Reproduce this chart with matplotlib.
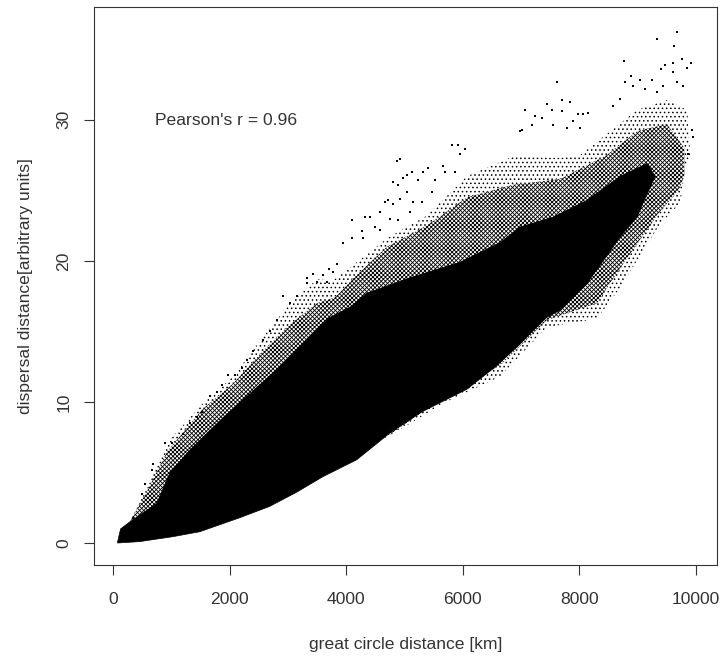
import numpy as np
import matplotlib
matplotlib.use('Agg')
import matplotlib.pyplot as plt

plt.rcParams['font.family'] = ['Liberation Sans', 'DejaVu Sans']
plt.rcParams['hatch.linewidth'] = 0.6

# solid part of the cloud
core_top_x = [80, 130, 290, 750, 978, 1320, 1890, 2350, 2810, 3200, 3600, 3720, 4060, 4350, 4750,
              5090, 5950, 6640, 6980, 7550, 8130, 8700, 9160, 9300]
core_top_y = [0.1, 1.0, 1.5, 2.8, 5.0, 6.6, 8.9, 10.6, 12.3, 13.9, 15.6, 16.0, 16.7, 17.7, 18.3,
              18.8, 19.9, 21.3, 22.4, 23.1, 24.3, 26.0, 26.9, 26.0]
core_bot_x = [80, 460, 1030, 1490, 2180, 2690, 3150, 3600, 4180, 4750, 5300, 6070, 6500, 6930,
              7440, 7670, 8130, 8700, 8990, 9090, 9300]
core_bot_y = [0.0, 0.1, 0.45, 0.8, 1.8, 2.6, 3.6, 4.7, 5.9, 7.8, 9.3, 10.9, 12.3, 13.9,
              16.0, 16.5, 18.4, 21.7, 23.1, 24.1, 26.0]

# dark speckled band next to the core
dense_top_x = [80, 290, 600, 930, 1540, 2060, 2570, 3040, 3500, 3800, 4180, 4700, 5380, 6070,
               6860, 7670, 8470, 8990, 9500, 9800, 9800]
dense_top_y = [0.1, 1.5, 3.8, 6.5, 9.5, 11.3, 13.6, 15.5, 17.0, 17.4, 19.0, 21.0, 22.5, 24.5,
               25.4, 25.8, 27.5, 29.2, 29.7, 28.0, 26.0]
dense_bot_x = [80, 4750, 5660, 6640, 7440, 8300, 8700, 9090, 9380, 9700, 9800]
dense_bot_y = [0.0, 7.7, 10.3, 12.6, 15.8, 17.0, 19.5, 21.8, 23.5, 25.0, 26.0]

# thin speckled fringe outside that
fringe_top_x = [80, 290, 600, 930, 1540, 2060, 2570, 3040, 3500, 3770, 4180, 4700, 5380, 6070,
                6860, 7670, 8010, 8470, 8990, 9500, 9850, 9900]
fringe_top_y = [0.1, 1.6, 4.0, 7.1, 9.9, 11.8, 14.6, 17.0, 18.7, 18.6, 19.9, 21.6, 23.2, 26.0,
                27.4, 27.3, 27.5, 29.0, 30.7, 31.4, 30.7, 27.5]
fringe_bot_x = [80, 4750, 5660, 6640, 7440, 8300, 8700, 9090, 9380, 9730, 9810, 9900]
fringe_bot_y = [0.0, 7.6, 9.9, 11.8, 15.3, 15.9, 18.1, 20.7, 22.6, 24.1, 26.4, 27.5]

# single points above the cloud
stray_x = [9670, 9326, 9624, 8766, 9755, 9910, 9600, 9470, 9395, 9612, 9840, 8880, 8783, 7610,
           9040, 9240, 9670, 9784, 8926, 9126, 9440, 9326, 8697, 8583, 7839, 7696, 7450, 7067,
           7524, 7696, 8154, 7982, 8068, 7353, 7238, 7896, 7553, 7181, 7782, 8011, 7021, 9927,
           9955, 9870, 6983, 5811, 5925, 6039, 5954, 4867, 4924, 5668, 5410, 5324, 5124, 5696,
           5868, 5038, 4981, 5239, 5525, 4810, 4895, 5038, 5467, 5153, 4924, 4724, 4667, 5296,
           4810, 5096, 4581, 4409, 4323, 4095, 4752, 4895, 4495, 4266, 4295, 4095, 3952, 4581,
           3837, 3711, 3780, 3608, 3437, 3322]
stray_y = [36.2, 35.7, 35.2, 34.2, 34.3, 34.0, 34.0, 33.9, 33.6, 33.4, 33.7, 33.1, 32.7, 32.7,
           32.8, 32.8, 32.7, 32.4, 32.4, 32.2, 32.4, 32.0, 31.5, 31.0, 31.3, 31.4, 31.1, 30.7,
           30.7, 30.6, 30.5, 30.4, 30.4, 30.1, 30.3, 29.9, 29.6, 29.6, 29.4, 29.4, 29.3, 29.3,
           28.8, 27.6, 29.2, 28.2, 28.2, 27.9, 27.6, 27.1, 27.2, 26.7, 26.6, 26.3, 26.3, 26.3,
           26.3, 26.1, 25.9, 25.7, 25.7, 25.6, 25.4, 24.9, 24.9, 24.2, 24.4, 24.3, 24.2, 24.2,
           24.0, 23.5, 23.5, 23.1, 23.1, 22.9, 23.0, 22.9, 22.4, 22.1, 21.65, 21.6, 21.25, 22.2,
           19.8, 19.4, 19.2, 19.0, 19.1, 18.8]

# points along the upper ridge at short distances
ridge_x = [350, 493, 550, 664, 693, 893, 1007, 1208, 1322, 1436, 1522, 1665, 1780, 1865, 1980,
           2094, 2209, 2294, 2409, 2580, 2695, 2809, 2924, 3038, 3152, 3324, 3496, 3667]
ridge_y = [1.75, 3.5, 4.2, 5.2, 5.6, 7.1, 7.1, 7.7, 8.5, 8.96, 9.3, 10.4, 10.7, 11.2, 11.9,
           11.9, 12.4, 13.0, 13.6, 14.4, 15.0, 15.8, 17.5, 17.0, 17.5, 18.4, 18.5, 18.5]

x_ticks = [0, 2000, 4000, 6000, 8000, 10000]
y_ticks = [0, 10, 20, 30]

fig = plt.figure(figsize=(7.2, 6.56), dpi=100)
ax = fig.add_axes([94 / 720, 1 - 565 / 656, (717 - 94) / 720, (565 - 7) / 656])

# outer fringe first, then darker band, then the solid core on top
ax.fill(np.r_[fringe_top_x, fringe_bot_x[::-1]], np.r_[fringe_top_y, fringe_bot_y[::-1]],
        facecolor='white', edgecolor='black', hatch='....', linewidth=0)
ax.fill(np.r_[dense_top_x, dense_bot_x[::-1]], np.r_[dense_top_y, dense_bot_y[::-1]],
        facecolor='white', edgecolor='black', hatch='xxxxxxxx', linewidth=0)
ax.fill(np.r_[core_top_x, core_bot_x[::-1]], np.r_[core_top_y, core_bot_y[::-1]],
        facecolor='black', edgecolor='black', linewidth=0.5)
ax.scatter(stray_x, stray_y, s=0.8, marker='s', c='black', linewidths=0)
ax.scatter(ridge_x, ridge_y, s=0.8, marker='s', c='black', linewidths=0)

ax.set_xlim(-326, 10360)
ax.set_ylim(-1.56, 38.0)
ax.set_xticks(x_ticks)
ax.set_yticks(y_ticks)
ax.tick_params(axis='x', length=7.2, width=0.8, color='#333333', labelcolor='#333333', labelsize=12.6, pad=12)
ax.tick_params(axis='y', length=7.2, width=0.8, color='#333333', labelcolor='#333333', labelsize=12.6, pad=9)
for lab in ax.get_yticklabels():
    lab.set_rotation(90)
    lab.set_va('center')
for sp in ax.spines.values():
    sp.set_color('#333333')
    sp.set_linewidth(0.8)

ax.set_xlabel('great circle distance [km]', fontsize=12.6, color='#333333', labelpad=22)
ax.set_ylabel('dispersal distance[arbitrary units]', fontsize=12.6, color='#333333', labelpad=17)
ax.text(720, 29.95, "Pearson's r = 0.96", fontsize=12.6, color='#333333', va='center')

plt.savefig('out.png', dpi=100)
